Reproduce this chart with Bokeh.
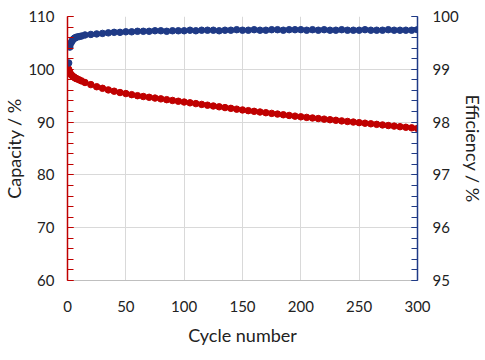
from bokeh.plotting import figure
from bokeh.models import Range1d, LinearAxis, FixedTicker
from bokeh.embed import file_html
from bokeh.resources import INLINE

cycles = [1, 2, 3, 4, 5, 6, 7, 8, 10, 12, 15,
          20, 25, 30, 35, 40, 45, 50, 55, 60, 65, 70, 75, 80, 85, 90, 95, 100,
          105, 110, 115, 120, 125, 130, 135, 140, 145, 150, 155, 160, 165, 170,
          175, 180, 185, 190, 195, 200, 205, 210, 215, 220, 225, 230, 235, 240,
          245, 250, 255, 260, 265, 270, 275, 280, 285, 290, 295, 300]

capacity = [100.0, 99.4, 99.0, 98.8, 98.6, 98.45, 98.3, 98.2, 98.0, 97.8, 97.5,
            97.1, 96.7, 96.4, 96.1, 95.85, 95.6, 95.4, 95.2, 95.0, 94.85, 94.7, 94.55, 94.4, 94.25, 94.1, 93.95, 93.8,
            93.65, 93.5, 93.35, 93.2, 93.05, 92.9, 92.75, 92.6, 92.45, 92.3, 92.17, 92.04, 91.91, 91.78,
            91.65, 91.52, 91.39, 91.26, 91.13, 91.0, 90.89, 90.78, 90.67, 90.56, 90.45, 90.34, 90.23, 90.12,
            90.01, 89.9, 89.79, 89.68, 89.57, 89.46, 89.35, 89.24, 89.13, 89.02, 88.91, 88.8]

efficiency = [99.12, 99.42, 99.50, 99.54, 99.57, 99.59, 99.60, 99.61, 99.62, 99.63, 99.65,
              99.66, 99.67, 99.68, 99.69, 99.70, 99.70, 99.71, 99.71, 99.72, 99.72, 99.72, 99.73, 99.73, 99.72, 99.73, 99.73, 99.73,
              99.74, 99.73, 99.74, 99.74, 99.74, 99.73, 99.74, 99.74, 99.75, 99.74, 99.74, 99.75, 99.74, 99.74,
              99.75, 99.75, 99.74, 99.75, 99.75, 99.75, 99.74, 99.75, 99.74, 99.75, 99.74, 99.74, 99.75, 99.74,
              99.74, 99.74, 99.75, 99.74, 99.74, 99.74, 99.75, 99.74, 99.74, 99.74, 99.74, 99.75]

x_ticks = [0, 50, 100, 150, 200, 250, 300]
cap_ticks = [60, 70, 80, 90, 100, 110]
eff_ticks = [95, 96, 97, 98, 99, 100]

RED = "#c00000"
BLUE = "#1f3a86"
FONT = "Lato"

p = figure(frame_width=350, frame_height=264, output_backend="svg", toolbar_location=None,
           x_range=Range1d(0, 300), y_range=Range1d(60, 110),
           min_border_left=0, min_border_right=0, min_border_top=16, min_border_bottom=0)
p.outline_line_color = None
p.background_fill_color = "white"
p.border_fill_color = "white"
p.extra_y_ranges = {"eff": Range1d(95, 100)}

p.xgrid.ticker = FixedTicker(ticks=x_ticks)
p.ygrid.ticker = FixedTicker(ticks=cap_ticks)
p.grid.grid_line_color = "#d9d9d9"
p.grid.grid_line_width = 1

# x axis
xa = p.xaxis[0]
xa.ticker = FixedTicker(ticks=x_ticks)
xa.axis_line_color = "#bfbfbf"
xa.major_tick_line_color = None
xa.minor_tick_line_color = None
xa.major_tick_in = 0
xa.major_tick_out = 0
xa.major_label_text_font = FONT
xa.major_label_text_font_size = "15px"
xa.major_label_text_color = "#222222"
xa.major_label_standoff = 20
xa.axis_label = "Cycle number"
xa.axis_label_text_font = FONT
xa.axis_label_text_font_size = "18px"
xa.axis_label_text_font_style = "normal"
xa.axis_label_text_color = "#222222"
xa.axis_label_standoff = 9

# left axis
ya = p.yaxis[0]
minor_cap = [v for v in range(60, 111, 2)]
ya.ticker = FixedTicker(ticks=cap_ticks, minor_ticks=minor_cap)
ya.axis_line_color = RED
ya.axis_line_width = 1.5
ya.major_tick_line_color = RED
ya.minor_tick_line_color = RED
ya.major_tick_in = 6
ya.major_tick_out = 0
ya.minor_tick_in = 6
ya.minor_tick_out = 0
ya.major_label_text_font = FONT
ya.major_label_text_font_size = "15px"
ya.major_label_text_color = "#222222"
ya.major_label_standoff = 13
ya.axis_label = "Capacity / %"
ya.axis_label_text_font = FONT
ya.axis_label_text_font_size = "18px"
ya.axis_label_text_font_style = "normal"
ya.axis_label_text_color = "#222222"
ya.axis_label_standoff = 0

# right axis
ra = LinearAxis(y_range_name="eff")
minor_eff = [95 + 0.2 * i for i in range(26)]
ra.ticker = FixedTicker(ticks=eff_ticks, minor_ticks=minor_eff)
ra.axis_line_color = BLUE
ra.axis_line_width = 1.5
ra.major_tick_line_color = BLUE
ra.minor_tick_line_color = BLUE
ra.major_tick_in = 6
ra.major_tick_out = 0
ra.minor_tick_in = 6
ra.minor_tick_out = 0
ra.major_label_text_font = FONT
ra.major_label_text_font_size = "15px"
ra.major_label_text_color = "#222222"
ra.major_label_standoff = 15
ra.axis_label = "Efficiency / %"
ra.axis_label_text_font = FONT
ra.axis_label_text_font_size = "18px"
ra.axis_label_text_font_style = "normal"
ra.axis_label_text_color = "#222222"
ra.axis_label_standoff = 0
p.add_layout(ra, "right")

p.scatter(cycles, capacity, size=6.5, color=RED, line_color=RED)
p.scatter(cycles, efficiency, size=6.5, color=BLUE, line_color=BLUE, y_range_name="eff")

open("out.html", "w").write(file_html(p, INLINE))
